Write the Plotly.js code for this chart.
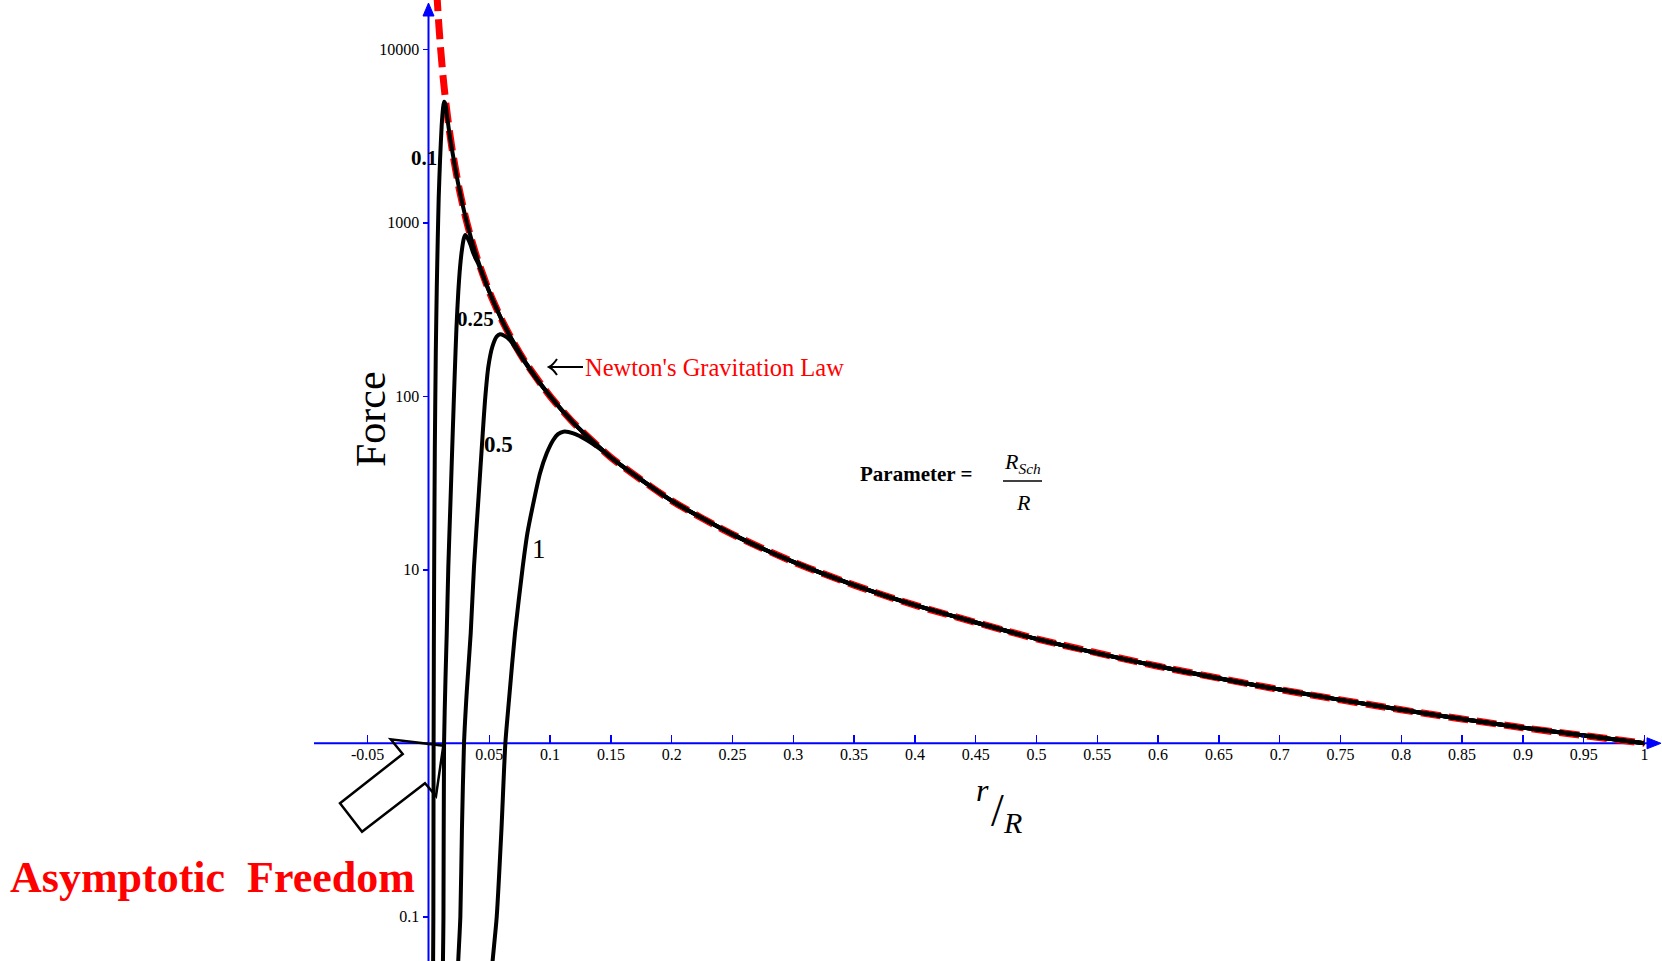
<!DOCTYPE html>
<html>
<head>
<meta charset="utf-8">
<script src="https://cdn.plot.ly/plotly-3.0.1.min.js"></script>
<style>
  html, body { margin: 0; padding: 0; background: #fff; overflow: hidden; }
  #chart { width: 1662px; height: 961px; }
</style>
</head>
<body>
<div id="chart"></div>
<script>
// Newton's gravitation law, force against r/R
const newtonR = [0.0068, 0.0075, 0.0085, 0.01, 0.012, 0.014, 0.017, 0.02, 0.025, 0.03, 0.035, 0.04, 0.05, 0.06, 0.07, 0.08, 0.1, 0.12, 0.15, 0.2, 0.25, 0.3, 0.35, 0.4, 0.5, 0.6, 0.7, 0.8, 0.9, 1.0];
const newtonF = [21600, 17800, 13800, 10000, 6940, 5100, 3460, 2500, 1600, 1110, 816, 625, 400, 278, 204, 156, 100, 69.4, 44.4, 25, 16, 11.1, 8.16, 6.25, 4, 2.78, 2.04, 1.56, 1.23, 1];

// Parameter = 0.1
const p01R = [0.0036, 0.0038, 0.0040, 0.0041, 0.0042, 0.0044, 0.0047, 0.0052, 0.0060, 0.0068, 0.0076, 0.0084, 0.0095, 0.0108, 0.0120, 0.0128, 0.0140, 0.0155, 0.0177, 0.0200, 0.0250];
const p01F = [0.03, 0.0564, 0.1, 0.32, 1, 3.5, 12, 50, 180, 420, 800, 1400, 2300, 3600, 4600, 4980, 4800, 4000, 3100, 2480, 1600];

// Parameter = 0.25
const p025R = [0.0113, 0.0119, 0.0123, 0.0128, 0.0140, 0.0150, 0.0163, 0.0181, 0.0199, 0.0215, 0.0230, 0.0245, 0.0260, 0.0275, 0.0290, 0.0302, 0.0320, 0.0345, 0.0369, 0.0410, 0.0451, 0.0500];
const p025F = [0.03, 0.0564, 0.1, 1, 2.4, 4.3, 10.4, 25, 61, 130, 250, 400, 560, 700, 810, 850, 820, 750, 667, 580, 489, 400];

// Parameter = 0.5
const p05R = [0.0230, 0.0245, 0.0262, 0.0275, 0.0292, 0.0315, 0.0347, 0.0374, 0.0410, 0.0446, 0.0465, 0.0492, 0.0525, 0.0561, 0.0588, 0.0620, 0.0670, 0.0780, 0.0850];
const p05F = [0.03, 0.0564, 0.1, 0.32, 1, 2, 4.3, 10.4, 25.3, 61.2, 95, 148, 193, 221, 227.7, 224, 211, 162, 137];

// Parameter = 1
const p1R = [0.0495, 0.0528, 0.0561, 0.0600, 0.0632, 0.0662, 0.0711, 0.0775, 0.0813, 0.0868, 0.0917, 0.0972, 0.1026, 0.1065, 0.1109, 0.1191, 0.1301, 0.1465];
const p1F = [0.03, 0.0564, 0.1, 0.32, 1, 1.78, 4.3, 10.4, 16.2, 25.3, 36, 46.9, 56, 60.5, 62.5, 61.2, 56, 46.6];

const curveLabels = ['0.1', '0.25', '0.5', '1'];

const xTickVals = [-0.05, 0.05, 0.1, 0.15, 0.2, 0.25, 0.3, 0.35, 0.4, 0.45, 0.5, 0.55, 0.6, 0.65, 0.7, 0.75, 0.8, 0.85, 0.9, 0.95, 1];
const xTickText = ['-0.05', '0.05', '0.1', '0.15', '0.2', '0.25', '0.3', '0.35', '0.4', '0.45', '0.5', '0.55', '0.6', '0.65', '0.7', '0.75', '0.8', '0.85', '0.9', '0.95', '1'];
const yTickVals = [0.1, 10, 100, 1000, 10000];
const yTickText = ['0.1', '10', '100', '1000', '10000'];

// page geometry (pixels) for paper-referenced decorations
const W = 1662, H = 961;
const px = x => x / W;
const py = y => 1 - y / H;
const pt = (x, y) => px(x) + ',' + py(y);

const SERIF = 'Liberation Serif, Times New Roman, serif';
const BLUE = '#0000ff';

// a black curve follows its own rise and peak, then runs along Newton's law
function withTail(rs, fs) {
  const last = rs[rs.length - 1];
  const x = rs.slice(), y = fs.slice();
  newtonR.forEach((r, i) => { if (r > last) { x.push(r); y.push(newtonF[i]); } });
  return { x, y };
}

const traces = [];
traces.push({
  x: newtonR, y: newtonF, type: 'scatter', mode: 'lines', name: "Newton's Gravitation Law",
  line: { color: '#ff0000', width: 7, dash: '20px,8px', shape: 'spline', smoothing: 0.6 },
  hoverinfo: 'skip'
});
[[p01R, p01F], [p025R, p025F], [p05R, p05F], [p1R, p1F]].forEach((c, i) => {
  const d = withTail(c[0], c[1]);
  traces.push({
    x: d.x, y: d.y, type: 'scatter', mode: 'lines', name: curveLabels[i],
    line: { color: '#000000', width: 4, shape: 'spline', smoothing: 0.6 },
    hoverinfo: 'skip'
  });
});

const x0 = 428.5, xScale = 1216;
const yOne = 743.3, decade = 173.5;

const layout = {
  width: W, height: H,
  margin: { l: 0, r: 0, t: 0, b: 0, pad: 0 },
  paper_bgcolor: '#ffffff', plot_bgcolor: '#ffffff',
  showlegend: false,
  xaxis: {
    range: [-x0 / xScale, (W - x0) / xScale],
    anchor: 'free', position: (H - yOne) / H,
    showline: false, showgrid: false, zeroline: false,
    tickmode: 'array', tickvals: xTickVals, ticktext: xTickText,
    ticks: 'inside', ticklen: 8, tickwidth: 1.5, tickcolor: BLUE,
    tickfont: { family: SERIF, size: 16, color: '#000000' },
    fixedrange: true
  },
  yaxis: {
    type: 'log',
    range: [(yOne - H) / decade, yOne / decade],
    anchor: 'free', position: x0 / W,
    showline: false, showgrid: false, zeroline: false,
    tickmode: 'array', tickvals: yTickVals, ticktext: yTickText,
    ticks: 'outside', ticklen: 6, tickwidth: 1.5, tickcolor: BLUE,
    tickfont: { family: SERIF, size: 16, color: '#000000' },
    fixedrange: true
  },
  shapes: [
    // axis lines with arrowheads
    { type: 'line', xref: 'paper', yref: 'paper', x0: px(x0), y0: py(H), x1: px(x0), y1: py(12), line: { color: BLUE, width: 2 }, layer: 'below' },
    { type: 'path', xref: 'paper', yref: 'paper', path: 'M' + pt(x0, 3) + 'L' + pt(x0 - 5.5, 16) + 'L' + pt(x0 + 5.5, 16) + 'Z', fillcolor: BLUE, line: { color: BLUE, width: 1 } },
    { type: 'line', xref: 'paper', yref: 'paper', x0: px(314), y0: py(yOne), x1: px(1650), y1: py(yOne), line: { color: BLUE, width: 2 }, layer: 'below' },
    { type: 'path', xref: 'paper', yref: 'paper', path: 'M' + pt(1661, yOne) + 'L' + pt(1647, yOne - 5.5) + 'L' + pt(1647, yOne + 5.5) + 'Z', fillcolor: BLUE, line: { color: BLUE, width: 1 } },
    // hollow block arrow pointing at the origin
    { type: 'path', xref: 'paper', yref: 'paper',
      path: 'M' + pt(390.7, 739.3) + 'L' + pt(402.7, 754) + 'L' + pt(340, 803.3) + 'L' + pt(362, 831.7) + 'L' + pt(425, 783.3) + 'L' + pt(436, 796) + 'L' + pt(443.3, 745.7) + 'Z',
      line: { color: '#000000', width: 2.5 } },
    // small arrow pointing at the Newton curve
    { type: 'line', xref: 'paper', yref: 'paper', x0: px(549), y0: py(367), x1: px(583), y1: py(367), line: { color: '#000000', width: 2 } },
    { type: 'path', xref: 'paper', yref: 'paper', path: 'M' + pt(557, 359) + 'Q' + pt(553, 365) + ' ' + pt(549, 367) + 'Q' + pt(553, 369) + ' ' + pt(557, 375), line: { color: '#000000', width: 2 } },
    // fraction bar
    { type: 'line', xref: 'paper', yref: 'paper', x0: px(1003), y0: py(481), x1: px(1042), y1: py(481), line: { color: '#000000', width: 1.5 } }
  ],
  annotations: [
    { text: 'Force', textangle: -90, x: px(371), y: py(419), font: { family: SERIF, size: 42, color: '#000000' } },
    { text: '<i>r</i>', x: px(982), y: py(790), font: { family: SERIF, size: 32, color: '#000000' } },
    { text: '/', x: px(997), y: py(810), font: { family: SERIF, size: 46, color: '#000000' } },
    { text: '<i>R</i>', x: px(1012), y: py(822), font: { family: SERIF, size: 30, color: '#000000' } },
    { text: "Newton's Gravitation Law", x: px(583), y: py(367), xanchor: 'left', font: { family: SERIF, size: 24.5, color: '#ff0000' } },
    { text: '<b>Parameter =</b>', x: px(916), y: py(474), font: { family: SERIF, size: 21, color: '#000000' } },
    { text: '<i>R<sub>Sch</sub></i>', x: px(1022), y: py(463), font: { family: SERIF, size: 22, color: '#000000' } },
    { text: '<i>R</i>', x: px(1023), y: py(502), font: { family: SERIF, size: 22, color: '#000000' } },
    { text: '<b>Asymptotic  Freedom</b>', x: px(212), y: py(877), font: { family: SERIF, size: 44, color: '#ff0000' } },
    { text: '<b>' + curveLabels[0] + '</b>', x: px(424), y: py(158), font: { family: SERIF, size: 21, color: '#000000' } },
    { text: '<b>' + curveLabels[1] + '</b>', x: px(476), y: py(319), font: { family: SERIF, size: 21, color: '#000000' } },
    { text: '<b>' + curveLabels[2] + '</b>', x: px(499), y: py(444), font: { family: SERIF, size: 23, color: '#000000' } },
    { text: curveLabels[3], x: px(539), y: py(549), font: { family: SERIF, size: 27, color: '#000000' } }
  ].map(a => Object.assign({ xref: 'paper', yref: 'paper', showarrow: false, xanchor: 'center', yanchor: 'middle' }, a))
};

Plotly.newPlot('chart', traces, layout, { displayModeBar: false, staticPlot: true });
</script>
</body>
</html>
